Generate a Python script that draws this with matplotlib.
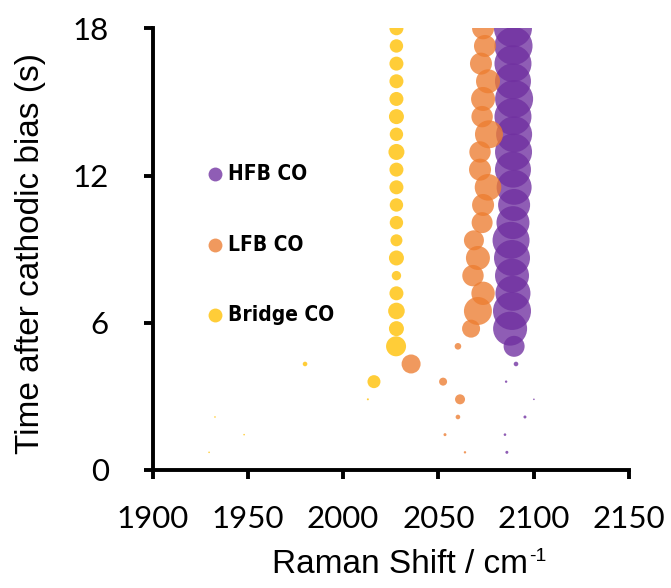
import matplotlib
matplotlib.use("Agg")
import matplotlib.pyplot as plt
import numpy as np

# time after cathodic bias (s), one spectrum per row
time_s = [0.72, 1.44, 2.16, 2.88, 3.60, 4.32, 5.04, 5.76, 6.48, 7.20, 7.92, 8.64, 9.36,
          10.08, 10.80, 11.52, 12.24, 12.96, 13.68, 14.40, 15.12, 15.84, 16.56, 17.28, 18.00]

hfb_shift = [2086.0, 2085.0, 2095.5, 2100.2, 2085.6, 2090.8, 2089.8, 2087.7, 2088.7, 2089.2,
             2088.7, 2088.7, 2088.2, 2089.2, 2089.8, 2089.8, 2089.2, 2089.5, 2089.8, 2089.2,
             2089.8, 2089.2, 2089.2, 2089.5, 2089.2]
hfb_amp = [1.5, 1.3, 1.5, 0.8, 1.2, 2.3, 10.5, 17.0, 19.0, 17.5, 17.0, 18.0, 18.5,
           16.5, 16.0, 17.5, 18.0, 18.5, 18.0, 18.5, 19.0, 18.0, 18.5, 19.0, 19.0]

lfb_shift = [2064.0, 2053.5, 2060.3, 2061.4, 2052.5, 2035.7, 2060.3, 2067.2, 2070.8, 2073.5,
             2068.2, 2070.8, 2068.7, 2073.0, 2073.5, 2076.1, 2071.9, 2071.9, 2076.6, 2073.0,
             2073.5, 2076.1, 2072.4, 2074.5, 2073.5]
lfb_amp = [1.2, 1.5, 2.3, 5.0, 4.0, 9.5, 3.3, 9.0, 14.0, 11.7, 10.7, 12.0, 10.0,
           10.5, 11.0, 13.3, 11.0, 10.7, 14.0, 10.7, 12.0, 12.0, 11.0, 11.0, 11.0]

bridge_shift = [1929.6, 1948.0, 1932.7, 2013.0, 2016.2, 1980.0, 2027.8, 2028.0, 2028.0, 2028.0,
                2028.0, 2028.0, 2028.0, 2028.0, 2028.0, 2028.0, 2028.0, 2028.0, 2028.0, 2028.0,
                2028.0, 2028.0, 2028.0, 2028.0, 2028.0]
bridge_amp = [0.8, 0.8, 0.8, 1.0, 6.5, 2.3, 10.0, 7.5, 8.3, 7.0, 4.7, 7.5, 6.0,
              6.7, 6.7, 7.0, 7.0, 8.0, 6.7, 7.5, 7.0, 7.0, 7.0, 6.7, 7.0]

series = [
    ("HFB CO", hfb_shift, hfb_amp, "#7030A0"),
    ("LFB CO", lfb_shift, lfb_amp, "#ED7D31"),
    ("Bridge CO", bridge_shift, bridge_amp, "#FFC000"),
]

x_ticks = [1900, 1950, 2000, 2050, 2100, 2150]
y_ticks = [0, 6, 12, 18]

fig = plt.figure(figsize=(6.71, 5.88), dpi=100)
ax = fig.add_axes([0.2276, 0.2007, 0.7094, 0.7512])

for name, xs, amp, color in series:
    s = (1.44 * np.asarray(amp)) ** 2
    ax.scatter(xs, time_s, s=s, color=color, alpha=0.78, linewidths=0)

ax.set_xlim(1900, 2150)
ax.set_ylim(0, 18)
ax.set_xticks(x_ticks)
ax.set_yticks(y_ticks)

for side in ("top", "right"):
    ax.spines[side].set_visible(False)
for side in ("left", "bottom"):
    ax.spines[side].set_linewidth(2.8)
ax.tick_params(axis="both", direction="out", width=2.8, length=6.5, labelsize=22.5)
ax.tick_params(axis="x", pad=19)
ax.tick_params(axis="y", pad=25)
for lab in ax.get_xticklabels() + ax.get_yticklabels():
    lab.set_fontfamily("Lato")

ax.set_xlabel("Raman Shift / cm", fontsize=24, family="Liberation Sans", va="baseline")
ax.xaxis.set_label_coords(0.52, -0.233)
ax.set_ylabel("Time after cathodic bias (s)", fontsize=24, family="Liberation Sans",
              va="center")
ax.yaxis.set_label_coords(-0.2576, 0.489)

# superscript "-1" after the x label
fig.canvas.draw()
bb = ax.xaxis.label.get_window_extent()
W, H = fig.get_size_inches() * fig.dpi
fig.text((bb.x1 + 1) / W, (bb.y1 + 1) / H, "-1", fontsize=14, family="Liberation Sans",
         ha="left", va="top")

# hand-placed legend
leg_y = [0.669, 0.510, 0.352]
for (name, _, _, color), yy in zip(series, leg_y):
    ax.plot([0.13], [yy], "o", color=color, alpha=0.78, markersize=10, mew=0,
            transform=ax.transAxes, clip_on=False)
    ax.text(0.158, yy, name, transform=ax.transAxes, va="center", ha="left",
            fontsize=15, fontweight="bold", family="DejaVu Sans", fontstretch="condensed")

fig.savefig("out.png", dpi=100)
